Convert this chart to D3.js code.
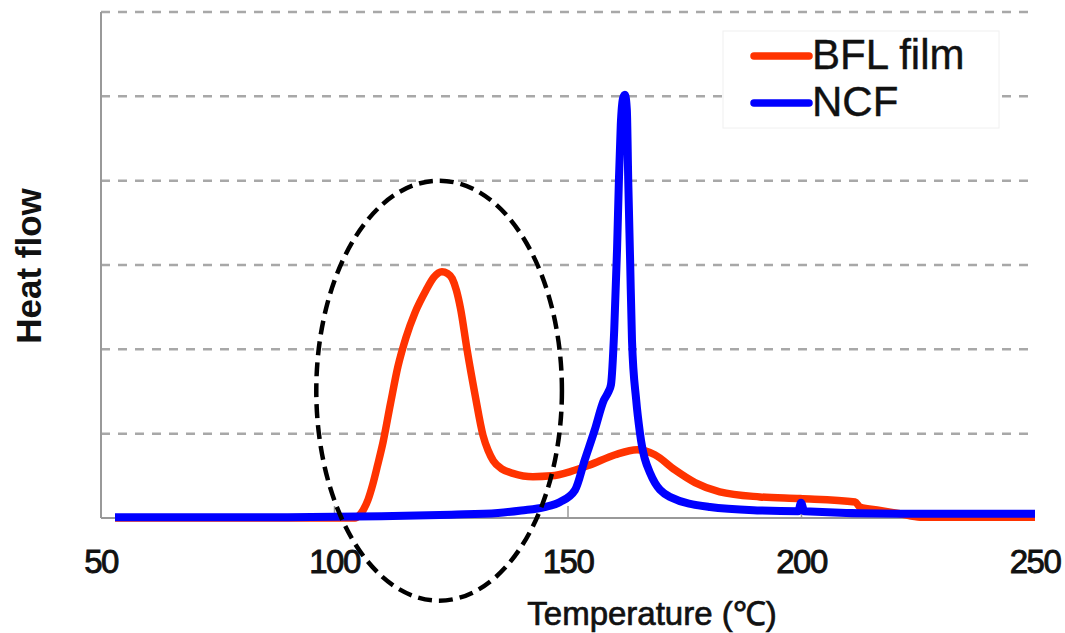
<!DOCTYPE html>
<html>
<head>
<meta charset="utf-8">
<script src="https://cdn.jsdelivr.net/npm/d3@7"></script>
<style>
  body { margin: 0; background: #fff; }
  svg { display: block; font-family: "Liberation Sans", Arial, sans-serif; }
</style>
</head>
<body>
<div id="chart"></div>
<script>
// DSC curves: temperature (C) and heat flow (grid units)
var bflTemp = [53, 104.4, 105.3, 106.2, 107.2, 108.2, 109.2, 110.4, 112.0, 113.6, 115.3, 117.2, 119.6,
    121.2, 123.0, 124.2, 125.2, 126.1, 127.0, 128.4, 130.1, 131.8, 132.9, 134.0, 135.9, 138.2, 142.5,
    146.5, 150.5, 154.7, 160.1, 164.8, 168.6, 172.9, 177.2, 182.5, 191.1, 199.7, 211.5, 212.5, 216.8,
    221.1, 225.4, 250];
var bflFlow = [0, 0, 0.03, 0.10, 0.22, 0.40, 0.62, 0.90, 1.36, 1.80, 2.14, 2.43, 2.70,
    2.85, 2.92, 2.90, 2.84, 2.70, 2.48, 1.99, 1.46, 0.98, 0.80, 0.68, 0.58, 0.53, 0.49,
    0.50, 0.55, 0.63, 0.75, 0.81, 0.75, 0.57, 0.42, 0.31, 0.25, 0.23, 0.19, 0.13, 0.09,
    0.05, 0.01, 0.01];

var ncfTemp = [53, 90, 110, 125, 135, 140, 145, 148.3, 151.5, 153.6, 155.7, 157.7, 158.6, 159.2, 159.9,
    160.5, 160.9, 161.3, 161.8, 162.2, 162.6, 162.9, 163.3, 163.7, 164.6, 165.4, 167.6, 171.8,
    180.4, 191.1, 199.3, 199.9, 200.6, 221.1, 250];
var ncfFlow = [0.01, 0.01, 0.02, 0.04, 0.06, 0.09, 0.13, 0.19, 0.33, 0.69, 1.04, 1.40, 1.49, 1.58, 2.23,
    3.18, 4.0, 4.66, 4.98, 5.02, 4.84, 4.0, 3.06, 2.11, 1.40, 1.01, 0.53, 0.25,
    0.13, 0.09, 0.08, 0.18, 0.08, 0.05, 0.05];

var seriesNames = ["BFL film", "NCF"];
var seriesColors = ["#ff3300", "#0000ff"];
var xTickValues = [50, 100, 150, 200, 250];
var gridLevels = [1, 2, 3, 4, 5, 6];

// dashed ellipse marking the BFL peak: centre (temp, flow), radii (temp, flow)
var ringCentre = [122.4, 1.51];
var ringRadius = [26.3, 2.49];

var width = 1065,
    height = 633;

var x = d3.scaleLinear().domain([50, 250]).range([101, 1035]);
var y = d3.scaleLinear().domain([0, 6]).range([518, 12]);

var svg = d3.select("#chart").append("svg")
    .attr("width", width)
    .attr("height", height);

// gridlines
svg.selectAll(".grid")
    .data(gridLevels)
    .enter().append("line")
    .attr("class", "grid")
    .attr("x1", x(50)).attr("x2", x(250))
    .attr("y1", function(d) { return y(d); })
    .attr("y2", function(d) { return y(d); })
    .attr("stroke", "#a8a8a8")
    .attr("stroke-width", 2.5)
    .attr("stroke-dasharray", "9,8");

// axes lines
svg.append("line")
    .attr("x1", x(50)).attr("x2", x(50))
    .attr("y1", y(6)).attr("y2", y(0))
    .attr("stroke", "#999").attr("stroke-width", 2);
svg.append("line")
    .attr("x1", x(50)).attr("x2", x(250))
    .attr("y1", y(0)).attr("y2", y(0))
    .attr("stroke", "#999").attr("stroke-width", 2);

svg.selectAll(".xtick")
    .data(xTickValues.slice(1, -1))
    .enter().append("line")
    .attr("class", "xtick")
    .attr("x1", function(d) { return x(d); })
    .attr("x2", function(d) { return x(d); })
    .attr("y1", y(0)).attr("y2", y(0) - 12)
    .attr("stroke", "#999").attr("stroke-width", 1.5);

svg.selectAll(".xlabel")
    .data(xTickValues)
    .enter().append("text")
    .attr("class", "xlabel")
    .attr("x", function(d) { return x(d); })
    .attr("y", 573)
    .attr("text-anchor", "middle")
    .style("font-size", "33px")
    .style("letter-spacing", "-1.5px")
    .attr("fill", "#111")
    .attr("stroke", "#111")
    .attr("stroke-width", 0.9)
    .text(function(d) { return d; });

svg.append("text")
    .attr("x", 652)
    .attr("y", 625)
    .attr("text-anchor", "middle")
    .style("font-size", "33px")
    .attr("fill", "#111")
    .attr("stroke", "#111")
    .attr("stroke-width", 0.7)
    .text("Temperature (\u2103)");

svg.append("text")
    .attr("transform", "translate(41,266) rotate(-90)")
    .attr("text-anchor", "middle")
    .style("font-size", "35px")
    .style("font-weight", "bold")
    .attr("fill", "#111")
    .text("Heat flow");

// curves
var line = d3.line()
    .x(function(d) { return x(d[0]); })
    .y(function(d) { return y(d[1]); })
    .curve(d3.curveMonotoneX);

var bflData = d3.zip(bflTemp, bflFlow);
var ncfData = d3.zip(ncfTemp, ncfFlow);

svg.append("path")
    .datum(bflData)
    .attr("d", line)
    .attr("fill", "none")
    .attr("stroke", seriesColors[0])
    .attr("stroke-width", 7.5)
    .attr("stroke-linejoin", "round");

svg.append("path")
    .datum(ncfData)
    .attr("d", line)
    .attr("fill", "none")
    .attr("stroke", seriesColors[1])
    .attr("stroke-width", 8)
    .attr("stroke-linejoin", "round");

// annotation ellipse
svg.append("ellipse")
    .attr("cx", x(ringCentre[0]))
    .attr("cy", y(ringCentre[1]))
    .attr("rx", x(ringCentre[0] + ringRadius[0]) - x(ringCentre[0]))
    .attr("ry", y(0) - y(ringRadius[1]))
    .attr("fill", "none")
    .attr("stroke", "#000")
    .attr("stroke-width", 4.5)
    .attr("stroke-dasharray", "14,7");

// legend
var leg = svg.append("g").attr("transform", "translate(723,31)");
leg.append("rect")
    .attr("width", 276).attr("height", 97)
    .attr("fill", "#fff")
    .attr("stroke", "#f0f0f0");

var legItem = leg.selectAll(".legend")
    .data(seriesNames)
    .enter().append("g")
    .attr("class", "legend")
    .attr("transform", function(d, i) { return "translate(0," + (25 + i * 47) + ")"; });

legItem.append("line")
    .attr("x1", 31).attr("x2", 86)
    .attr("stroke", function(d, i) { return seriesColors[i]; })
    .attr("stroke-width", 7.5)
    .attr("stroke-linecap", "round");

legItem.append("text")
    .attr("x", 89)
    .attr("y", 13)
    .style("font-size", "42px")
    .attr("fill", "#111")
    .attr("stroke", "#111")
    .attr("stroke-width", 0.4)
    .text(function(d) { return d; });
</script>
</body>
</html>
